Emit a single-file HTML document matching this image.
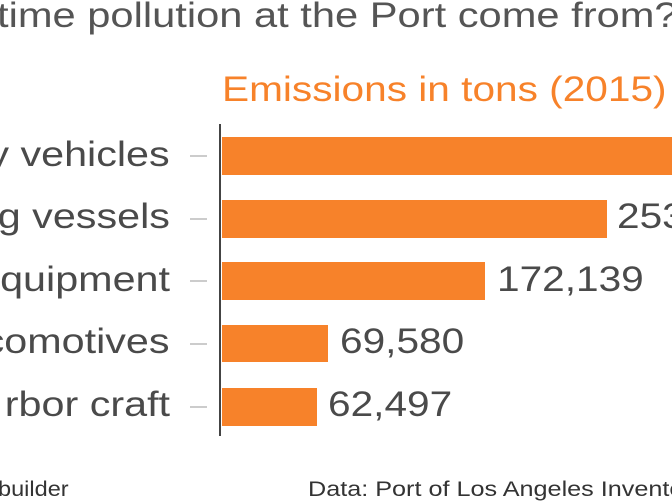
<!DOCTYPE html><html><head><style>
body{margin:0;width:672px;height:504px;overflow:hidden;background:#fff;position:relative;font-family:"Liberation Sans",sans-serif}
.t{position:absolute;white-space:nowrap;transform-origin:0 50%}
.bar{position:absolute;left:222px;background:#f7822a}
.lab{position:absolute;right:502px;font-size:35px;color:#4a4a4a;white-space:nowrap;transform:scaleX(1.18);transform-origin:100% 50%}
.tk{position:absolute;left:190px;width:17px;height:2px;background:#ccc}
.v{position:absolute;font-size:35px;color:#4a4a4a;transform:scaleX(1.16);transform-origin:0 50%;white-space:nowrap}
</style></head><body>
<div class="t" style="left:-3px;top:-4px;font-size:35px;color:#555;transform:scaleX(1.19)">time pollution at the Port come from?</div>
<div class="t" style="left:222px;top:70px;font-size:35px;color:#f7822a;transform:scaleX(1.16)">Emissions in tons (2015)</div>
<div style="position:absolute;left:219px;top:124px;width:2px;height:312px;background:#444"></div>
<div class="bar" style="top:137px;height:38px;width:460px"></div>
<div class="bar" style="top:200px;height:38px;width:385px"></div>
<div class="bar" style="top:262px;height:38px;width:263px"></div>
<div class="bar" style="top:325px;height:37px;width:106px"></div>
<div class="bar" style="top:388px;height:38px;width:95px"></div>
<div class="tk" style="top:155px"></div><div class="tk" style="top:218px"></div><div class="tk" style="top:280px"></div><div class="tk" style="top:343px"></div><div class="tk" style="top:406px"></div>
<div class="lab" style="top:135px">y vehicles</div>
<div class="lab" style="top:197px">g vessels</div>
<div class="lab" style="top:260px">quipment</div>
<div class="lab" style="top:322px">comotives</div>
<div class="lab" style="top:385px">rbor craft</div>
<div class="v" style="left:617px;top:197px">253,</div>
<div class="v" style="left:497px;top:260px">172,139</div>
<div class="v" style="left:340px;top:322px">69,580</div>
<div class="v" style="left:328px;top:385px">62,497</div>
<div class="t" style="left:-2px;top:478px;font-size:21px;color:#333;transform:scaleX(1.12)">builder</div>
<div class="t" style="left:308px;top:478px;font-size:21px;color:#333;transform:scaleX(1.2)">Data: Port of Los Angeles Inventory</div>
</body></html>
